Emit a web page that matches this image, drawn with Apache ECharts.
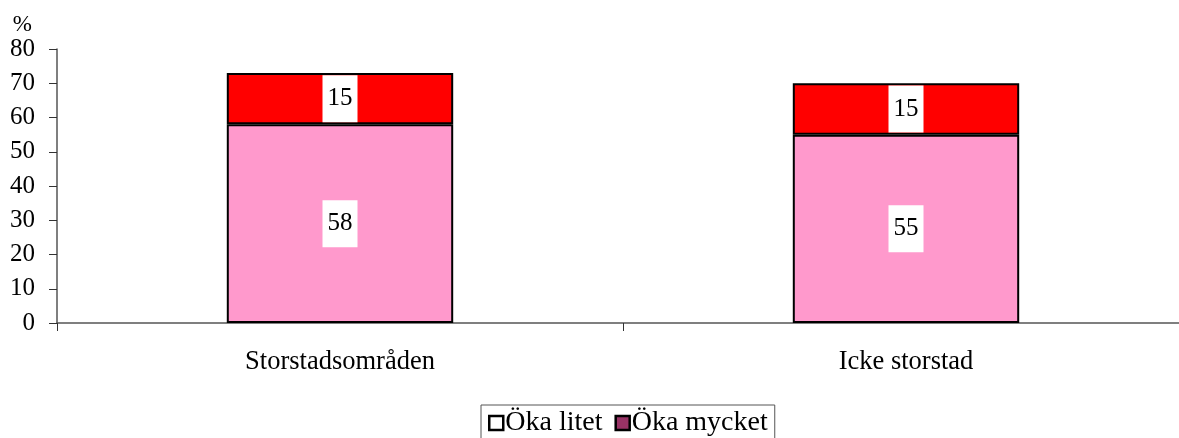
<!DOCTYPE html>
<html>
<head>
<meta charset="utf-8">
<script src="https://cdn.jsdelivr.net/npm/echarts@6/dist/echarts.min.js"></script>
<style>
  html, body { margin: 0; padding: 0; background: #fff; overflow: hidden; }
  /* the plot area runs a bit past the right edge of the window, as in the original */
  #chart { width: 1189px; height: 438px; }
</style>
</head>
<body>
<div id="chart"></div>
<script>
// data
var categories = ['Storstadsområden', 'Icke storstad'];
var okaLitet = [58, 55];
var okaMycket = [15, 15];
var yTicks = { min: 0, max: 80, interval: 10 };

var font = '"Liberation Serif", "Times New Roman", serif';

var chart = echarts.init(document.getElementById('chart'));

var labelStyle = {
  show: true,
  position: 'inside',
  color: '#000',
  fontFamily: font,
  fontSize: 25,
  backgroundColor: '#fff',
  padding: [12, 5, 10, 5]
};

chart.setOption({
  animation: false,
  backgroundColor: '#fff',
  textStyle: { fontFamily: font },
  grid: { left: 57, right: 0, top: 49, bottom: 115, containLabel: false },
  xAxis: {
    type: 'category',
    data: categories,
    boundaryGap: true,
    axisLine: { lineStyle: { color: '#555', width: 1.5 } },
    axisTick: { show: true, length: 8, interval: 0, lineStyle: { color: '#333' } },
    axisLabel: { color: '#000', fontFamily: font, fontSize: 26.5, margin: 26, interval: 0 }
  },
  yAxis: {
    type: 'value',
    min: yTicks.min,
    max: yTicks.max,
    interval: yTicks.interval,
    name: '%',
    nameLocation: 'end',
    nameGap: 12,
    nameTextStyle: { color: '#000', fontFamily: font, fontSize: 23, align: 'right', padding: [0, 25, 0, 0] },
    splitLine: { show: false },
    axisLine: { show: true, lineStyle: { color: '#555', width: 1.5 } },
    axisTick: { show: true, length: 8, lineStyle: { color: '#333' } },
    axisLabel: { color: '#000', fontFamily: font, fontSize: 25, margin: 22 }
  },
  legend: {
    bottom: -29,
    left: 481,
    itemWidth: 14,
    itemHeight: 14,
    itemGap: 12,
    padding: [4, 7, 30, 7],
    borderColor: '#555',
    borderWidth: 1,
    textStyle: { color: '#000', fontFamily: font, fontSize: 28, padding: [0, 0, 0, -3] },
    data: [
      { name: 'Öka litet', icon: 'rect', itemStyle: { color: '#fff', borderColor: '#000', borderWidth: 2.5 } },
      { name: 'Öka mycket', icon: 'rect', itemStyle: { color: '#993366', borderColor: '#000', borderWidth: 2.5 } }
    ]
  },
  series: [
    {
      name: 'Öka litet',
      type: 'bar',
      stack: 'total',
      barWidth: '40%',
      data: okaLitet,
      itemStyle: { color: '#ff99cc', borderColor: '#000', borderWidth: 2 },
      label: labelStyle
    },
    {
      name: 'Öka mycket',
      type: 'bar',
      stack: 'total',
      barWidth: '40%',
      data: okaMycket,
      itemStyle: { color: '#ff0000', borderColor: '#000', borderWidth: 2 },
      label: labelStyle
    }
  ]
});
</script>
</body>
</html>
